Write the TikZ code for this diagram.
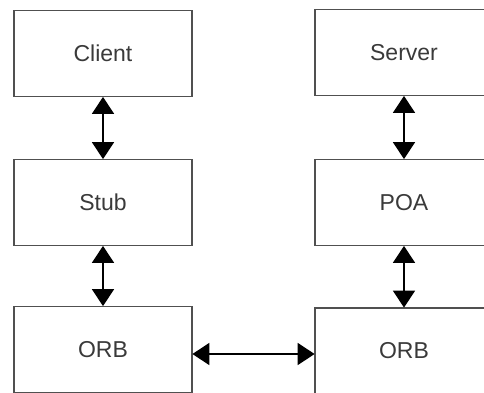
\documentclass[tikz,border=0pt]{standalone}
\usepackage{fontspec}
\setmainfont{Liberation Sans}
\usetikzlibrary{arrows.meta}
\definecolor{boxline}{HTML}{505050}
\definecolor{boxtext}{HTML}{3A3A3A}
\begin{document}
\begin{tikzpicture}[x=1pt,y=-1pt,
  block/.style={draw=boxline, line width=1.8pt, fill=white, minimum width=178pt,
    minimum height=86pt, inner sep=0pt, text=boxtext, font=\fontsize{23}{26}\selectfont},
  link/.style={line width=1.6pt, black, {Triangle[width=22pt,length=17pt]}-{Triangle[width=22pt,length=17pt]}, shorten <=-0.5pt, shorten >=-0.5pt}]
  \useasboundingbox (0,0) rectangle (484,392);
  \clip (0,0) rectangle (484,392);
  % left column
  \node[block] (client) at (103,53.5) {Client};
  \node[block] (stub)   at (103,202.5) {Stub};
  \node[block] (orbL)   at (103,349.5) {ORB};
  % right column
  \node[block] (server) at (404,52.5) {Server};
  \node[block] (poa)    at (404,202.5) {POA};
  \node[block] (orbR)   at (404,351) {ORB};
  % connectors
  \draw[link] (client.south) -- (stub.north);
  \draw[link] (stub.south) -- (orbL.north);
  \draw[link] (server.south) -- (poa.north);
  \draw[link] (poa.south) -- (orbR.north);
  \draw[link] (orbL.east |- 0,354) -- (orbR.west |- 0,354);
\end{tikzpicture}
\end{document}
